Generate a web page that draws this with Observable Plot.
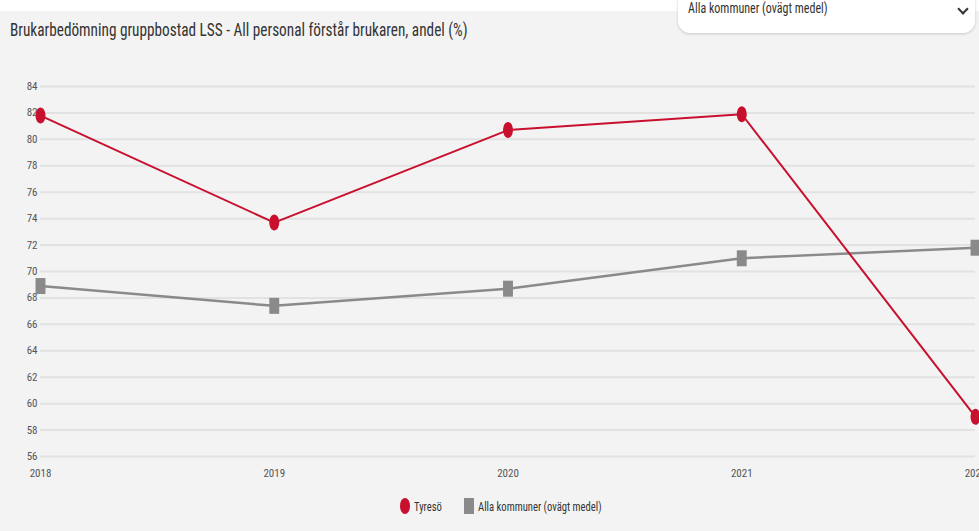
<!DOCTYPE html>
<html>
<head>
<meta charset="utf-8">
<script src="https://cdn.jsdelivr.net/npm/d3@7"></script>
<script src="https://cdn.jsdelivr.net/npm/@observablehq/plot@0.6"></script>
<style>
  html, body { margin: 0; padding: 0; }
  body { width: 979px; height: 531px; background: #f3f3f3; position: relative; overflow: hidden;
         font-family: "Liberation Sans Narrow", "Roboto Condensed", "Arial Narrow", Roboto, sans-serif; }
  #topstrip { position: absolute; left: 0; top: 0; width: 979px; height: 11px; background: #fff; }
  #dropdown { position: absolute; left: 678px; top: -20px; width: 297px; height: 53px; background: #fff;
              border-radius: 12px; box-shadow: 0 1px 3px rgba(0,0,0,0.18); overflow: hidden; }
  #dropdown .txt { position: absolute; left: 10px; top: 19px; font-size: 15px; color: #333;
                   transform: scaleX(0.8); transform-origin: left center; white-space: nowrap; }
  #dropdown .chev { position: absolute; left: 281px; top: 25px; width: 6px; height: 6px;
                    border-right: 2px solid #333; border-bottom: 2px solid #333; transform: rotate(45deg); }
  #title { position: absolute; left: 10px; top: 19px; font-size: 18px; color: #333; white-space: nowrap;
           transform: scaleX(0.848); transform-origin: left center; }
  #chart { position: absolute; left: 0; top: 60px; }
  #legend { position: absolute; left: 400px; top: 498px; display: flex;
            font-size: 12.5px; color: #333; }
  .item { display: flex; align-items: center; margin-right: 22px; }
  .sw { display: inline-block; margin-right: 4px; flex: none; }
  .lt { display: inline-block; transform-origin: left center; white-space: nowrap; }
</style>
</head>
<body>
<div id="topstrip"></div>
<div id="title">Brukarbedömning gruppbostad LSS - All personal förstår brukaren, andel (%)</div>
<div id="dropdown"><span class="txt">Alla kommuner (ovägt medel)</span><span class="chev"></span></div>
<div id="chart"></div>
<div id="legend"></div>
<script>
const years = [2018, 2019, 2020, 2021, 2022];
const tyreso = [81.8, 73.7, 80.7, 81.9, 59.0];
const allaKommuner = [68.9, 67.4, 68.7, 71.0, 71.8];
const yTicks = [56, 58, 60, 62, 64, 66, 68, 70, 72, 74, 76, 78, 80, 82, 84];
const seriesNames = ["Tyresö", "Alla kommuner (ovägt medel)"];
const colors = ["#c8102e", "#8a8a8a"];

const rows = [];
years.forEach((yr, i) => {
  rows.push({year: yr, value: tyreso[i], series: seriesNames[0]});
  rows.push({year: yr, value: allaKommuner[i], series: seriesNames[1]});
});

// tall ellipse and tall rectangle markers
const K = 0.5523;
const ellipseSym = {
  draw(ctx, size) {
    const r = Math.sqrt(size / Math.PI);
    const rx = r * 0.62, ry = r;
    ctx.moveTo(rx, 0);
    ctx.bezierCurveTo(rx, ry * K, rx * K, ry, 0, ry);
    ctx.bezierCurveTo(-rx * K, ry, -rx, ry * K, -rx, 0);
    ctx.bezierCurveTo(-rx, -ry * K, -rx * K, -ry, 0, -ry);
    ctx.bezierCurveTo(rx * K, -ry, rx, -ry * K, rx, 0);
    ctx.closePath();
  }
};
const rectSym = {
  draw(ctx, size) {
    const r = Math.sqrt(size / Math.PI);
    const w = r * 0.62, h = r;
    ctx.rect(-w, -h, 2 * w, 2 * h);
  }
};

const font = '"Liberation Sans Narrow", "Roboto Condensed", "Arial Narrow", Roboto, sans-serif';
const chart = Plot.plot({
  width: 979,
  height: 430,
  marginLeft: 40,
  marginRight: 4,
  marginTop: 26,
  marginBottom: 34,
  style: {background: "transparent", fontFamily: font, overflow: "hidden"},
  x: {domain: [2018, 2022], ticks: years, tickFormat: d3.format("d")},
  y: {domain: [56, 84], ticks: yTicks},
  marks: [
    Plot.gridY(yTicks, {stroke: "#e2e2e2", strokeOpacity: 1, strokeWidth: 2}),
    Plot.axisY(yTicks, {tickSize: 0, tickPadding: 3, fontSize: 11, fill: "#555", label: null}),
    Plot.axisX(years, {tickSize: 0, tickPadding: 13, fontSize: 11, fill: "#555", label: null, tickFormat: d3.format("d")}),
    Plot.line(rows.filter(d => d.series === seriesNames[1]), {x: "year", y: "value", stroke: colors[1], strokeWidth: 2.5}),
    Plot.line(rows.filter(d => d.series === seriesNames[0]), {x: "year", y: "value", stroke: colors[0], strokeWidth: 2}),
    Plot.dot(rows.filter(d => d.series === seriesNames[1]), {x: "year", y: "value", fill: colors[1], symbol: rectSym, r: 8}),
    Plot.dot(rows.filter(d => d.series === seriesNames[0]), {x: "year", y: "value", fill: colors[0], symbol: ellipseSym, r: 8})
  ]
});
document.getElementById("chart").appendChild(chart);

const legend = document.getElementById("legend");
seriesNames.forEach((name, i) => {
  const item = document.createElement("div");
  item.className = "item";
  const sw = document.createElement("span");
  sw.className = "sw";
  sw.style.width = "10px";
  sw.style.height = "16px";
  sw.style.background = colors[i];
  sw.style.borderRadius = i === 0 ? "50%" : "0";
  item.appendChild(sw);
  const t = document.createElement("span");
  t.className = "lt";
  t.textContent = name;
  item.appendChild(t);
  legend.appendChild(item);
  // compress text horizontally and shrink its layout box accordingly
  const w = t.getBoundingClientRect().width;
  const s = 0.85;
  t.style.transform = `scaleX(${s})`;
  t.style.marginRight = `${-w * (1 - s)}px`;
});
</script>
</body>
</html>
